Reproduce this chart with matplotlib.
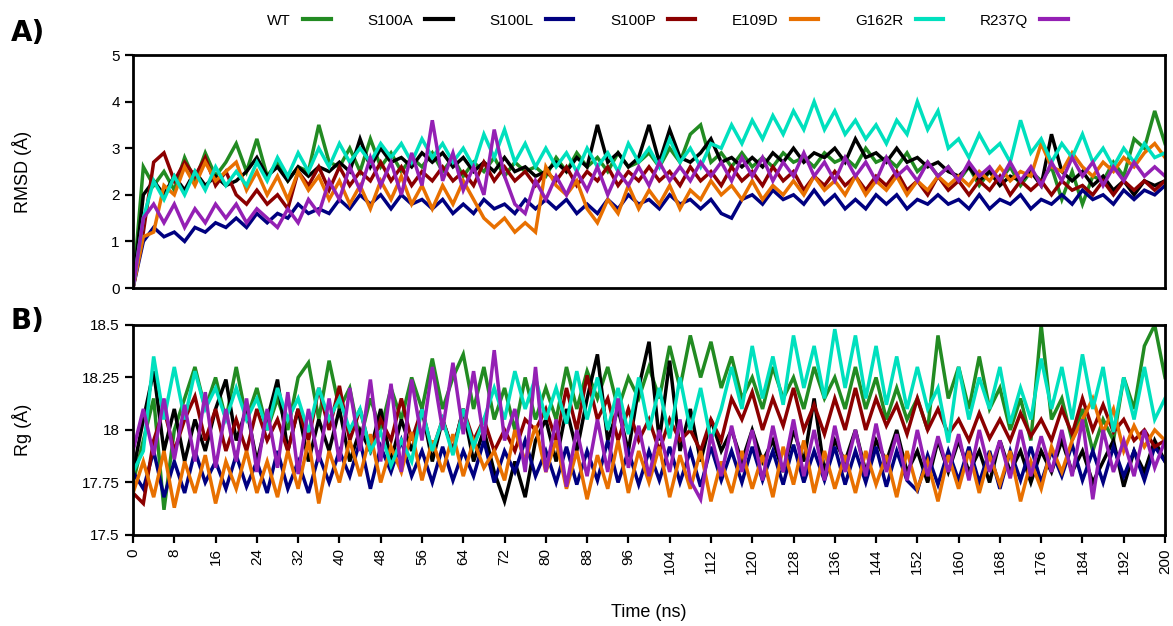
import numpy as np
import matplotlib
matplotlib.use("Agg")
import matplotlib.pyplot as plt
from matplotlib.lines import Line2D

plt.rcParams['font.family'] = ['Liberation Sans', 'DejaVu Sans']

time_ns = np.arange(0, 201, 2)
series = ["WT", "S100A", "S100L", "S100P", "E109D", "G162R", "R237Q"]
colors = ["#228B22", "#000000", "#000080", "#8B0000", "#E87000", "#00E0BE", "#9420B4"]

# ---- Panel A: RMSD (Å), every 2 ns ----
rmsd_wt = [0.0, 2.6, 2.2, 2.5, 2.1, 2.8, 2.3, 2.9, 2.4, 2.7,
           3.1, 2.5, 3.2, 2.4, 2.7, 2.3, 2.6, 2.5, 3.5, 2.7,
           2.6, 3.0, 2.5, 3.2, 2.6, 2.9, 2.5, 2.8, 2.6, 2.9,
           2.5, 2.8, 2.4, 2.7, 2.5, 2.8, 2.4, 2.7, 2.5, 2.6,
           2.4, 2.8, 2.5, 2.9, 2.6, 2.8, 2.5, 2.9, 2.6, 2.7,
           2.9, 2.6, 3.0, 2.7, 3.3, 3.5, 2.7, 2.9, 2.6, 2.9,
           2.6, 2.8, 2.6, 2.9, 2.7, 2.8, 2.6, 2.9, 2.7, 2.8,
           2.6, 3.0, 2.7, 2.8, 2.6, 2.9, 2.5, 2.7, 2.4, 2.6,
           2.3, 2.6, 2.2, 2.5, 2.3, 2.6, 2.2, 2.5, 2.3, 2.6,
           1.9, 2.5, 1.8, 2.4, 2.3, 2.7, 2.4, 3.2, 3.0, 3.8,
           3.1]
rmsd_s100a = [0.0, 2.0, 2.3, 2.0, 2.4, 2.1, 2.5, 2.2, 2.4, 2.2,
              2.3, 2.5, 2.8, 2.4, 2.6, 2.3, 2.6, 2.4, 2.6, 2.5,
              2.7, 2.5, 3.2, 2.6, 3.0, 2.7, 2.8, 2.6, 2.9, 2.7,
              2.9, 2.6, 2.8, 2.5, 2.7, 2.5, 2.8, 2.5, 2.6, 2.4,
              2.5, 2.7, 2.5, 2.8, 2.6, 3.5, 2.7, 2.9, 2.6, 2.8,
              3.5, 2.7, 3.4, 2.8, 2.7, 2.9, 3.2, 2.7, 2.8, 2.6,
              2.8, 2.6, 2.9, 2.7, 3.0, 2.7, 2.9, 2.8, 3.0, 2.7,
              3.2, 2.8, 2.9, 2.7, 3.0, 2.7, 2.8, 2.6, 2.7, 2.5,
              2.4, 2.6, 2.3, 2.5, 2.2, 2.4, 2.3, 2.5, 2.2, 3.3,
              2.5, 2.3, 2.5, 2.2, 2.4, 2.1, 2.3, 2.0, 2.3, 2.2,
              2.3]
rmsd_s100l = [0.0, 1.0, 1.3, 1.1, 1.2, 1.0, 1.3, 1.2, 1.4, 1.3,
              1.5, 1.3, 1.6, 1.4, 1.6, 1.5, 1.8, 1.6, 1.7, 1.6,
              1.9, 1.7, 2.0, 1.8, 2.0, 1.7, 2.0, 1.8, 1.9, 1.7,
              1.9, 1.6, 1.8, 1.6, 1.9, 1.7, 1.8, 1.6, 1.9, 1.7,
              1.9, 1.7, 1.9, 1.6, 1.8, 1.6, 1.9, 1.7, 2.0, 1.8,
              1.9, 1.7, 2.0, 1.8, 1.9, 1.7, 1.9, 1.6, 1.5, 1.9,
              2.0, 1.8, 2.1, 1.9, 2.0, 1.8, 2.1, 1.8, 2.0, 1.7,
              1.9, 1.7, 2.0, 1.8, 2.0, 1.7, 1.9, 1.8, 2.0, 1.8,
              1.9, 1.7, 2.0, 1.7, 1.9, 1.8, 2.0, 1.7, 1.9, 1.8,
              2.0, 1.8, 2.1, 1.9, 2.0, 1.8, 2.1, 1.9, 2.1, 2.0,
              2.2]
rmsd_s100p = [0.0, 1.2, 2.7, 2.9, 2.3, 2.7, 2.4, 2.8, 2.2, 2.5,
              2.0, 1.8, 2.1, 1.8, 2.0, 1.7, 2.5, 2.2, 2.6, 2.1,
              2.6, 2.2, 2.5, 2.3, 2.7, 2.3, 2.6, 2.2, 2.5, 2.3,
              2.6, 2.3, 2.5, 2.2, 2.7, 2.3, 2.6, 2.3, 2.5, 2.2,
              2.5, 2.3, 2.6, 2.2, 2.5, 2.3, 2.6, 2.2, 2.5, 2.3,
              2.6, 2.3, 2.5, 2.2, 2.6, 2.3, 2.5, 2.2, 2.6, 2.3,
              2.5, 2.2, 2.6, 2.3, 2.5, 2.1, 2.4, 2.2, 2.5, 2.2,
              2.4, 2.1, 2.4, 2.2, 2.5, 2.1, 2.3, 2.0, 2.4, 2.1,
              2.3, 2.0, 2.3, 2.1, 2.4, 2.0, 2.3, 2.1, 2.3, 2.0,
              2.3, 2.1, 2.2, 2.0, 2.3, 2.0, 2.3, 2.1, 2.3, 2.1,
              2.3]
rmsd_e109d = [0.0, 1.1, 1.2, 2.2, 2.0, 2.6, 2.2, 2.7, 2.3, 2.5,
              2.7, 2.1, 2.5, 2.0, 2.4, 1.9, 2.5, 2.1, 2.4, 1.9,
              2.3, 1.8, 2.2, 1.7, 2.3, 1.9, 2.4, 1.8, 2.2, 1.7,
              2.2, 1.8, 2.3, 1.9, 1.5, 1.3, 1.5, 1.2, 1.4, 1.2,
              2.6, 2.2, 2.0, 2.3, 1.7, 1.4, 1.9, 1.6, 2.2, 1.7,
              2.1, 1.8, 2.2, 1.7, 2.1, 1.9, 2.3, 2.0, 2.2, 1.9,
              2.3, 1.9, 2.2, 2.0, 2.3, 2.0, 2.4, 2.1, 2.3, 2.0,
              2.4, 2.0, 2.3, 2.1, 2.4, 2.0, 2.3, 2.1, 2.4, 2.2,
              2.4, 2.2, 2.5, 2.3, 2.6, 2.3, 2.5, 2.4, 3.1, 2.6,
              2.5, 2.9, 2.6, 2.4, 2.7, 2.5, 2.8, 2.6, 2.9, 3.1,
              2.8]
rmsd_g162r = [0.0, 1.5, 2.3, 1.9, 2.4, 2.0, 2.5, 2.1, 2.6, 2.2,
              2.5, 2.2, 2.7, 2.3, 2.8, 2.4, 2.9, 2.5, 3.0, 2.6,
              3.1, 2.7, 3.0, 2.7, 3.1, 2.8, 3.1, 2.7, 3.2, 2.8,
              3.1, 2.7, 3.0, 2.6, 3.3, 2.8, 3.4, 2.7, 3.1, 2.6,
              3.0, 2.6, 2.9, 2.5, 3.0, 2.6, 2.9, 2.5, 3.1, 2.7,
              3.0, 2.6, 3.2, 2.7, 3.0, 2.6, 3.1, 3.0, 3.5, 3.1,
              3.6, 3.2, 3.7, 3.3, 3.8, 3.4, 4.0, 3.4, 3.8, 3.3,
              3.6, 3.2, 3.5, 3.1, 3.6, 3.3, 4.0, 3.4, 3.8, 3.0,
              3.2, 2.8, 3.3, 2.9, 3.1, 2.7, 3.6, 2.9, 3.2, 2.7,
              3.1, 2.8, 3.3, 2.7, 3.0, 2.6, 3.0, 2.7, 3.1, 2.8,
              2.9]
rmsd_r237q = [0.0, 1.5, 1.8, 1.4, 1.8, 1.3, 1.7, 1.4, 1.8, 1.5,
              1.8, 1.4, 1.7, 1.5, 1.3, 1.7, 1.4, 1.9, 1.6, 2.3,
              1.9, 2.6, 2.1, 2.8, 2.2, 2.7, 2.0, 2.9, 2.2, 3.6,
              2.3, 2.9, 2.1, 2.6, 2.0, 3.4, 2.4, 1.8, 1.6, 2.3,
              1.9, 2.4, 2.0, 2.5, 2.1, 2.6, 2.0, 2.5, 2.2, 2.6,
              2.2, 2.7, 2.3, 2.6, 2.3, 2.7, 2.4, 2.7, 2.3, 2.8,
              2.4, 2.8, 2.3, 2.7, 2.4, 2.9, 2.4, 2.7, 2.3, 2.8,
              2.4, 2.7, 2.3, 2.8, 2.4, 2.6, 2.3, 2.7, 2.4, 2.6,
              2.3, 2.7, 2.4, 2.6, 2.3, 2.7, 2.3, 2.6, 2.2, 2.7,
              2.3, 2.8, 2.4, 2.7, 2.2, 2.6, 2.3, 2.7, 2.4, 2.6,
              2.4]

# ---- Panel B: Rg (Å), every 2 ns ----
rg_wt = [17.75, 17.95, 18.15, 17.62, 18.0, 18.15, 18.3, 18.1, 18.25, 18.05,
         18.3, 18.05, 18.2, 18.0, 18.15, 18.0, 18.25, 18.32, 18.05, 18.33,
         18.1, 18.2, 17.95, 18.15, 18.0, 18.2, 18.05, 18.25, 18.1, 18.34,
         18.1, 18.25, 18.36, 18.1, 18.3, 18.05, 18.2, 18.0, 18.25, 18.05,
         18.2, 18.05, 18.3, 18.1, 18.28, 18.15, 18.3, 18.1, 18.25, 18.15,
         18.3, 18.15, 18.4, 18.2, 18.45, 18.25, 18.42, 18.2, 18.35, 18.15,
         18.25, 18.1, 18.3, 18.15, 18.25, 18.1, 18.3, 18.15, 18.25, 18.1,
         18.3, 18.1, 18.25, 18.05, 18.2, 18.05, 18.15, 18.0, 18.45, 18.15,
         18.3, 18.1, 18.35, 18.1, 18.2, 18.0, 18.15, 17.95, 18.5, 18.05,
         18.15, 17.95, 18.1, 17.9, 18.05, 17.95, 18.25, 18.1, 18.4, 18.5,
         18.25]
rg_s100a = [17.8, 18.05, 18.28, 17.9, 18.1, 17.85, 18.05, 17.9, 18.1, 18.24,
            17.95, 18.1, 17.85, 18.05, 18.24, 17.9, 18.1, 17.85, 18.05, 17.9,
            18.1, 17.85, 18.0, 17.9, 18.1, 17.85, 18.05, 17.9, 18.1, 17.85,
            18.05, 17.9, 18.1, 17.85, 18.0, 17.8, 17.66, 17.85, 17.68, 17.95,
            18.05, 17.85, 18.1, 17.9, 18.15, 18.36, 17.95, 18.1, 17.9, 18.2,
            18.42, 17.95, 18.33, 17.9, 18.1, 17.85, 18.05, 17.9, 18.0, 17.85,
            18.0, 17.85, 17.95, 17.8, 18.0, 17.85, 18.15, 17.8, 17.95, 17.85,
            18.0, 17.8, 17.95, 17.85, 18.0, 17.8, 17.9, 17.75, 17.95, 17.8,
            17.95, 17.8, 17.9, 17.75, 17.95, 17.8, 17.9, 17.75, 17.9, 17.8,
            17.95, 17.8, 17.9, 17.75, 17.85, 17.95, 17.73, 17.9, 17.8, 17.95,
            17.85]
rg_s100l = [17.8, 17.72, 17.9, 17.68, 17.85, 17.7, 17.9, 17.75, 17.85, 17.72,
            17.88, 17.73, 17.85, 17.7, 17.9, 17.72, 17.85, 17.7, 17.88, 17.75,
            17.9, 17.78, 17.95, 17.72, 17.92, 17.8, 17.95, 17.78, 17.9, 17.75,
            17.92, 17.76, 17.9, 17.78, 17.95, 17.75, 17.9, 17.8, 17.95, 17.78,
            17.9, 17.75, 17.92, 17.74, 17.9, 17.76, 17.95, 17.75, 17.9, 17.74,
            17.9, 17.76, 17.92, 17.75, 17.9, 17.73, 17.92, 17.76, 17.9, 17.75,
            17.92, 17.76, 17.9, 17.74, 17.93, 17.75, 17.9, 17.76, 17.92, 17.74,
            17.9, 17.75, 17.92, 17.73, 17.9, 17.76, 17.71, 17.88, 17.74, 17.9,
            17.76, 17.92, 17.75, 17.9, 17.72, 17.9, 17.76, 17.92, 17.75, 17.9,
            17.78, 17.93, 17.76, 17.9, 17.75, 17.92, 17.78, 17.9, 17.76, 17.92,
            17.85]
rg_s100p = [17.7, 17.65, 17.95, 18.1, 17.9, 18.05, 18.16, 17.95, 18.1, 17.9,
            18.05, 17.9, 18.1, 17.95, 18.05, 17.9, 18.1, 17.95, 18.2, 18.0,
            18.21, 17.95, 18.1, 17.9, 18.05, 17.95, 18.15, 17.95, 18.1, 17.9,
            18.05, 17.9, 18.1, 17.95, 18.05, 17.9, 18.0, 17.9, 18.05, 18.0,
            18.1, 17.95, 18.2, 18.0, 18.26, 18.05, 18.15, 17.95, 18.1, 17.95,
            18.05, 17.9, 18.05, 17.95, 18.0, 17.9, 18.05, 17.95, 18.15, 18.05,
            18.18, 18.0, 18.15, 18.02, 18.2, 18.0, 18.12, 17.98, 18.15, 18.0,
            18.2, 18.0, 18.15, 18.02, 18.12, 17.98, 18.15, 18.0, 18.1, 17.98,
            18.05, 17.95, 18.08, 17.96, 18.05, 17.95, 18.08, 17.97, 18.05, 17.95,
            18.1, 17.98, 18.15, 18.0, 18.12, 17.99, 18.05, 17.95, 18.0, 17.92,
            17.95]
rg_e109d = [17.7, 17.85, 17.68, 17.9, 17.63, 17.85, 17.7, 17.88, 17.65, 17.85,
            17.72, 17.9, 17.7, 17.85, 17.68, 17.9, 17.72, 17.95, 17.65, 17.9,
            17.75, 17.95, 17.78, 17.98, 17.75, 17.92, 17.8, 17.99, 17.76, 17.95,
            17.8, 17.98, 17.78, 17.95, 17.82, 17.9, 17.76, 18.0, 17.85, 18.02,
            17.8, 17.95, 17.72, 17.9, 17.67, 17.88, 17.72, 17.95, 17.7, 17.9,
            17.75, 17.92, 17.68, 17.88, 17.72, 17.9, 17.66, 17.85, 17.7, 17.9,
            17.72, 17.88, 17.68, 17.92, 17.74, 17.95, 17.7, 17.9, 17.72, 17.88,
            17.7, 17.9, 17.74, 17.88, 17.68, 17.9, 17.72, 17.85, 17.66, 17.88,
            17.72, 17.9, 17.7, 17.88, 17.74, 17.9, 17.66, 17.85, 17.72, 17.92,
            17.8, 17.95, 18.05, 18.15, 17.99, 18.1, 17.9, 18.02, 17.92, 18.0,
            17.95]
rg_g162r = [17.8, 17.9, 18.35, 18.05, 18.3, 18.05, 18.28, 18.1, 18.2, 18.05,
            18.2, 18.05, 18.15, 18.0, 18.2, 18.05, 18.15, 17.99, 18.2, 18.05,
            18.15, 18.0, 18.1, 17.9, 17.99, 17.83, 17.95, 17.85, 18.1, 17.9,
            18.05, 17.88, 18.1, 17.92, 18.05, 18.2, 18.05, 18.28, 18.1, 18.25,
            18.05, 18.2, 18.03, 18.28, 18.05, 18.25, 18.0, 18.2, 17.98, 18.25,
            18.0, 18.2, 17.96, 18.25, 18.0, 18.2, 17.95, 18.1, 18.3, 18.1,
            18.4, 18.15, 18.35, 18.12, 18.45, 18.2, 18.4, 18.15, 18.48, 18.2,
            18.45, 18.15, 18.4, 18.12, 18.35, 18.1, 18.3, 18.1, 18.2, 17.94,
            18.3, 18.05, 18.25, 18.1, 18.3, 18.03, 18.2, 18.05, 18.34, 18.1,
            18.3, 18.05, 18.36, 18.1, 18.3, 17.99, 18.25, 18.05, 18.3, 18.05,
            18.15]
rg_r237q = [17.9, 18.1, 17.88, 18.15, 17.86, 18.12, 17.85, 18.18, 17.82, 18.1,
            17.85, 18.15, 17.8, 18.1, 17.82, 18.18, 17.79, 18.1, 17.85, 18.15,
            17.85, 18.2, 17.9, 18.24, 17.85, 18.22, 17.8, 18.24, 17.95, 18.3,
            18.0, 18.32, 17.98, 18.28, 17.95, 18.38, 17.95, 18.1, 17.8, 18.3,
            17.8, 18.05, 17.73, 18.0, 17.78, 18.05, 17.8, 18.15, 17.82, 18.02,
            17.78, 18.0, 17.8, 18.05, 17.76, 17.67, 17.98, 17.78, 18.02, 17.8,
            18.0, 17.76, 18.02, 17.8, 18.05, 17.78, 18.0, 17.76, 18.02, 17.8,
            18.0, 17.78, 18.03, 17.8, 17.98, 17.76, 18.0, 17.78, 17.97, 17.8,
            17.98, 17.76, 18.0, 17.8, 17.95, 17.77, 18.0, 17.78, 17.97, 17.8,
            18.0, 17.78, 18.05, 17.67, 18.0, 17.8, 17.95, 17.78, 18.0, 17.82,
            17.95]

rmsd_data = [rmsd_wt, rmsd_s100a, rmsd_s100l, rmsd_s100p, rmsd_e109d, rmsd_g162r, rmsd_r237q]
rg_data = [rg_wt, rg_s100a, rg_s100l, rg_s100p, rg_e109d, rg_g162r, rg_r237q]

x_ticks = np.arange(0, 201, 8)
rg_ticks = [17.5, 17.75, 18.0, 18.25, 18.5]
rg_tick_labels = ["17.5", "17.75", "18", "18.25", "18.5"]

fig = plt.figure(figsize=(11.73, 6.26), dpi=100)
axA = fig.add_axes([0.1134, 0.5399, 0.8798, 0.3722])
axB = fig.add_axes([0.1134, 0.1454, 0.8798, 0.3355])

lw = 2.5
for name, c, d in zip(series, colors, rmsd_data):
    axA.plot(time_ns, d, color=c, lw=lw, label=name, solid_joinstyle='miter')
for name, c, d in zip(series, colors, rg_data):
    axB.plot(time_ns, d, color=c, lw=lw, solid_joinstyle='miter')

for ax in (axA, axB):
    ax.set_xlim(0, 200)
    for s in ax.spines.values():
        s.set_linewidth(2)
    ax.tick_params(axis='both', direction='out', length=6, width=1.6, labelsize=11)

axA.set_ylim(0, 5)
axA.set_yticks(range(0, 6))
axA.set_xticks([])
axA.set_ylabel("RMSD (Å)", fontsize=13)
axA.yaxis.set_label_coords(-0.098, 0.5)

axB.set_ylim(17.5, 18.5)
axB.set_yticks(rg_ticks)
axB.set_yticklabels(rg_tick_labels)
axB.set_xticks(x_ticks)
axB.set_xticklabels([str(v) for v in x_ticks], rotation=90)
axB.set_ylabel("Rg (Å)", fontsize=13)
axB.yaxis.set_label_coords(-0.098, 0.5)
axB.set_xlabel("Time (ns)", fontsize=13, labelpad=22)

handles = [Line2D([0], [0], color=c, lw=3) for c in colors]
fig.legend(handles, series, loc='center', bbox_to_anchor=(0.569, 0.967), ncol=7,
           frameon=False, markerfirst=False, fontsize=11, handlelength=1.8,
           handletextpad=0.8, columnspacing=2.4)

fig.text(0.009, 0.948, "A)", fontsize=20, fontweight='bold', family='DejaVu Sans', va='center')
fig.text(0.009, 0.488, "B)", fontsize=20, fontweight='bold', family='DejaVu Sans', va='center')

fig.savefig("out.png", dpi=100)
